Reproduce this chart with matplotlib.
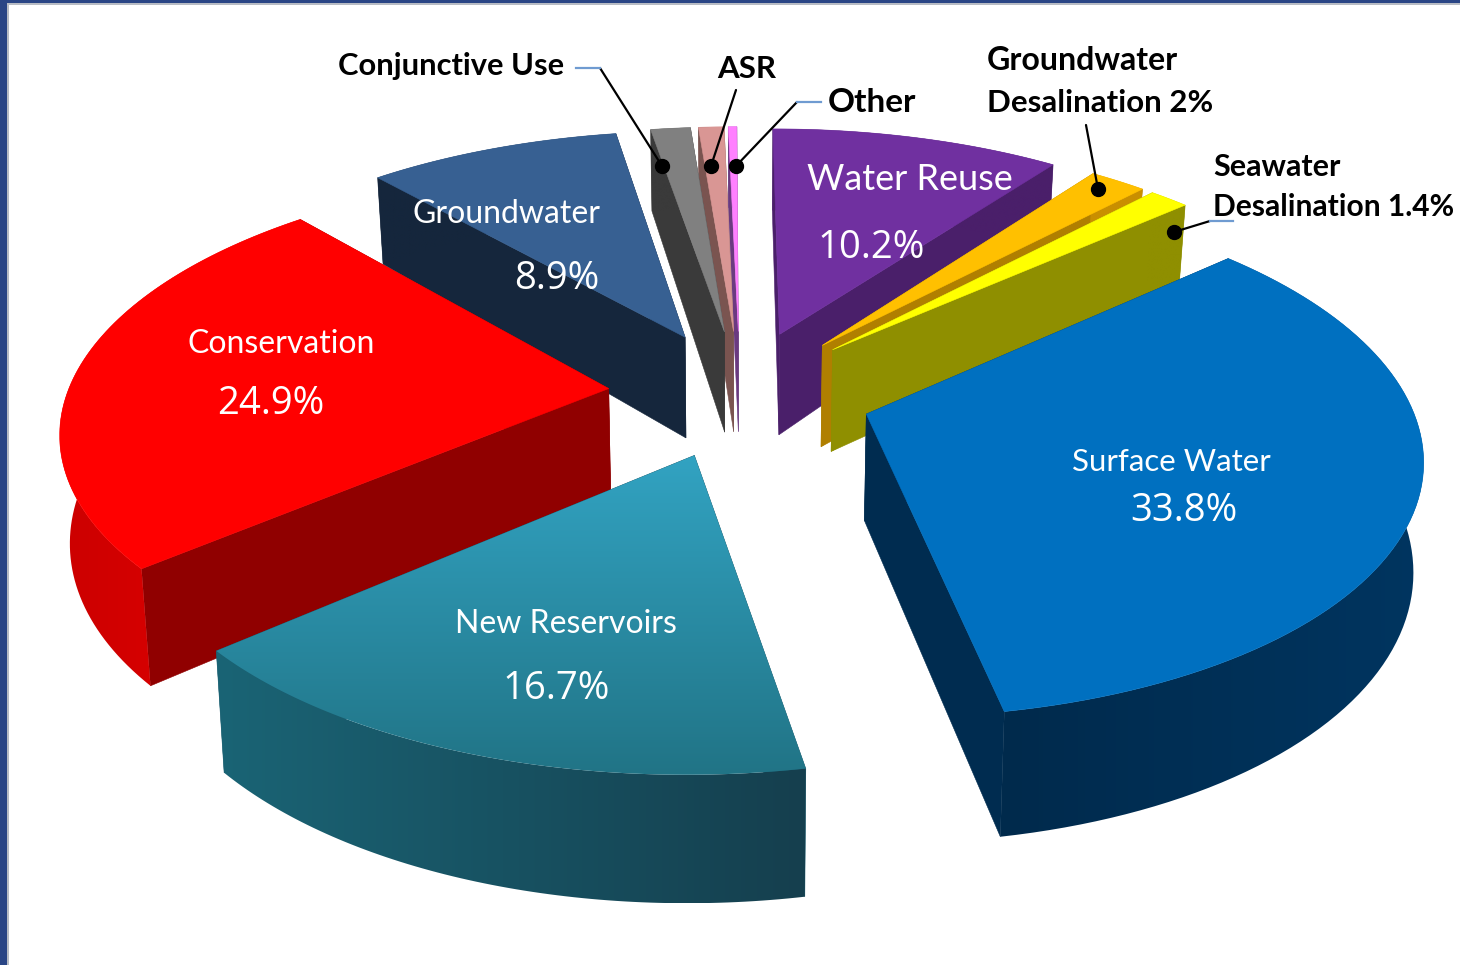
import numpy as np
import matplotlib
matplotlib.use("Agg")
import matplotlib.pyplot as plt
from matplotlib.patches import Polygon, Rectangle
from matplotlib.colors import LinearSegmentedColormap

# ---- data (clockwise from the upper right) ----
sources = ["Surface Water", "New Reservoirs", "Conservation", "Groundwater",
           "Conjunctive Use", "ASR", "Other", "Water Reuse",
           "Groundwater Desalination", "Seawater Desalination"]
shares = [33.8, 16.7, 24.9, 8.9, 1.4, 0.9, 0.3, 10.2, 2.0, 1.4]

top_colors = ["#0070c0", "#2a8ba6", "#ff0000", "#376092", "#808080",
              "#d99694", "#ff80ff", "#7030a0", "#ffc000", "#ffff00"]
cut_colors = ["#002c50", "#1a5d70", "#900000", "#15263c", "#3a3a3a",
              "#7a5450", "#6a3a80", "#4a1f6a", "#b07f00", "#8f8f00"]
rim_a = ["#002a4c", "#1a6475", "#cc0000", "#15263c", "#3a3a3a",
         "#7a5450", "#6a3a80", "#4a1f6a", "#c98f00", "#8f8f00"]
rim_b = ["#003560", "#153f4e", "#e60000", "#15263c", "#3a3a3a",
         "#7a5450", "#6a3a80", "#4a1f6a", "#c98f00", "#8f8f00"]

# ---- view of the tilted pie ----
START = 41.5
EXPLODE_X, EXPLODE_Y = 0.20, 0.208
RADIUS = 0.82
U0, V0, SX, SY, P = 740.0, 393.0, 660.0, 307.0, 0.18


def project(x, y):
    w = 1 + P * y
    return U0 + SX * x / w, V0 - SY * y / w


def drop(u, y):
    depth = 105 * (1 - 0.22 * y)
    return U0 + (u - U0) * 0.985, depth


W, H = 1460, 965
fig = plt.figure(figsize=(W / 100, H / 100), dpi=100, facecolor="white")
ax = fig.add_axes([0, 0, 1, 1])
ax.set_xlim(0, W)
ax.set_ylim(H, 0)
ax.axis("off")

ax.add_patch(Rectangle((0, 0), 7, H, fc="#2a4585", ec="none", zorder=0))
ax.add_patch(Rectangle((0, 0), W, 3, fc="#2a4585", ec="none", zorder=0))
ax.add_patch(Rectangle((7, 3), 1.5, H, fc="#b8bcc4", ec="none", zorder=0))
ax.add_patch(Rectangle((7, 3), W, 1.5, fc="#b8bcc4", ec="none", zorder=0))


def shaded(poly_xy, c0, c1, zz, vertical=False):
    """Fill a polygon with a linear shade through a clipped image."""
    poly = Polygon(poly_xy, closed=True, fc="none", ec="none", zorder=zz)
    ax.add_patch(poly)
    cmap = LinearSegmentedColormap.from_list("g", [c0, c1])
    ramp = np.linspace(0, 1, 256)
    grid = ramp[:, None] if vertical else ramp[None, :]
    xs_, ys_ = poly_xy[:, 0], poly_xy[:, 1]
    im = ax.imshow(grid, extent=(xs_.min(), xs_.max(), ys_.max(), ys_.min()),
                   cmap=cmap, aspect="auto", zorder=zz, interpolation="bilinear")
    im.set_clip_path(poly)


sweep = 360.0 * np.array(shares) / np.sum(shares)
ends = START - np.cumsum(sweep)
starts = ends + sweep

order = np.argsort([-np.sin(np.radians((a + b) / 2)) for a, b in zip(starts, ends)])
z = 2
for i in order:
    a0, a1 = starts[i], ends[i]
    mid = np.radians((a0 + a1) / 2)
    cx, cy = EXPLODE_X * np.cos(mid), EXPLODE_Y * np.sin(mid)
    th = np.radians(np.linspace(a0, a1, 80))
    xs = np.r_[cx, cx + RADIUS * np.cos(th)]
    ys = np.r_[cy, cy + RADIUS * np.sin(th)]
    us, vs = project(xs, ys)
    ub, dep = drop(us, ys)
    vb = vs + dep
    n = len(us) - 1

    for k in (1, n):
        ax.add_patch(Polygon([(us[0], vs[0]), (us[k], vs[k]), (ub[k], vb[k]), (ub[0], vb[0])],
                             closed=True, fc=cut_colors[i], ec=cut_colors[i], lw=0.4, zorder=z))
    rim = np.r_[np.c_[us[1:], vs[1:]], np.c_[ub[1:], vb[1:]][::-1]]
    shaded(rim, rim_a[i], rim_b[i], z + 0.1)
    face = np.c_[us, vs]
    if sources[i] == "New Reservoirs":
        shaded(face, "#32a3c2", "#217486", z + 0.2, vertical=True)
    else:
        ax.add_patch(Polygon(face, closed=True, fc=top_colors[i], ec=top_colors[i], lw=0.4, zorder=z + 0.2))
    z += 1

ax.set_xlim(0, W)
ax.set_ylim(H, 0)

FONT = ["Lato", "DejaVu Sans"]
NUM = ["Open Sans", "DejaVu Sans"]
TOP = 40

for x, y, s, fs in [(1171, 462, "Surface Water", 22.5), (566, 624, "New Reservoirs", 23),
                    (281, 344, "Conservation", 23), (506, 214, "Groundwater", 23),
                    (910, 180, "Water Reuse", 26)]:
    ax.text(x, y, s, color="white", fontsize=fs, family=FONT, ha="center", va="center", zorder=TOP)
for x, y, s in [(1184, 511, "33.8%"), (556, 689, "16.7%"), (271, 404, "24.9%"),
                (557, 279, "8.9%"), (871, 248, "10.2%")]:
    ax.text(x, y, s, color="white", fontsize=27.5, family=NUM, ha="center", va="center", zorder=TOP)

for x, y, s, fs in [(338, 66, "Conjunctive Use", 22.2), (717, 69, "ASR", 22.5), (828, 103, "Other", 24),
                    (987, 60, "Groundwater", 23), (987, 103, "Desalination 2%", 22.5),
                    (1213, 167, "Seawater", 22), (1213, 207, "Desalination 1.4%", 21.6)]:
    ax.text(x, y, s, color="black", fontsize=fs, family=FONT, weight="bold", ha="left", va="center", zorder=TOP)

for pts, blue in [([(600, 68), (662, 166)], [(576, 68), (600, 68)]),
                  ([(736, 90), (711, 166)], None),
                  ([(797, 102), (736, 166)], [(797, 102), (821, 102)]),
                  ([(1086, 125), (1098, 189)], None),
                  ([(1210, 221), (1174, 232)], [(1210, 221), (1233, 221)])]:
    (x0, y0), (x1, y1) = pts
    ax.plot([x0, x1], [y0, y1], color="black", lw=1.6, zorder=TOP, solid_capstyle="round")
    ax.plot([x1], [y1], "o", color="black", ms=10, zorder=TOP)
    if blue:
        ax.plot([blue[0][0], blue[1][0]], [blue[0][1], blue[1][1]], color="#6f9bd1", lw=1.6, zorder=TOP)

fig.savefig("out.png", dpi=100, facecolor="white")
